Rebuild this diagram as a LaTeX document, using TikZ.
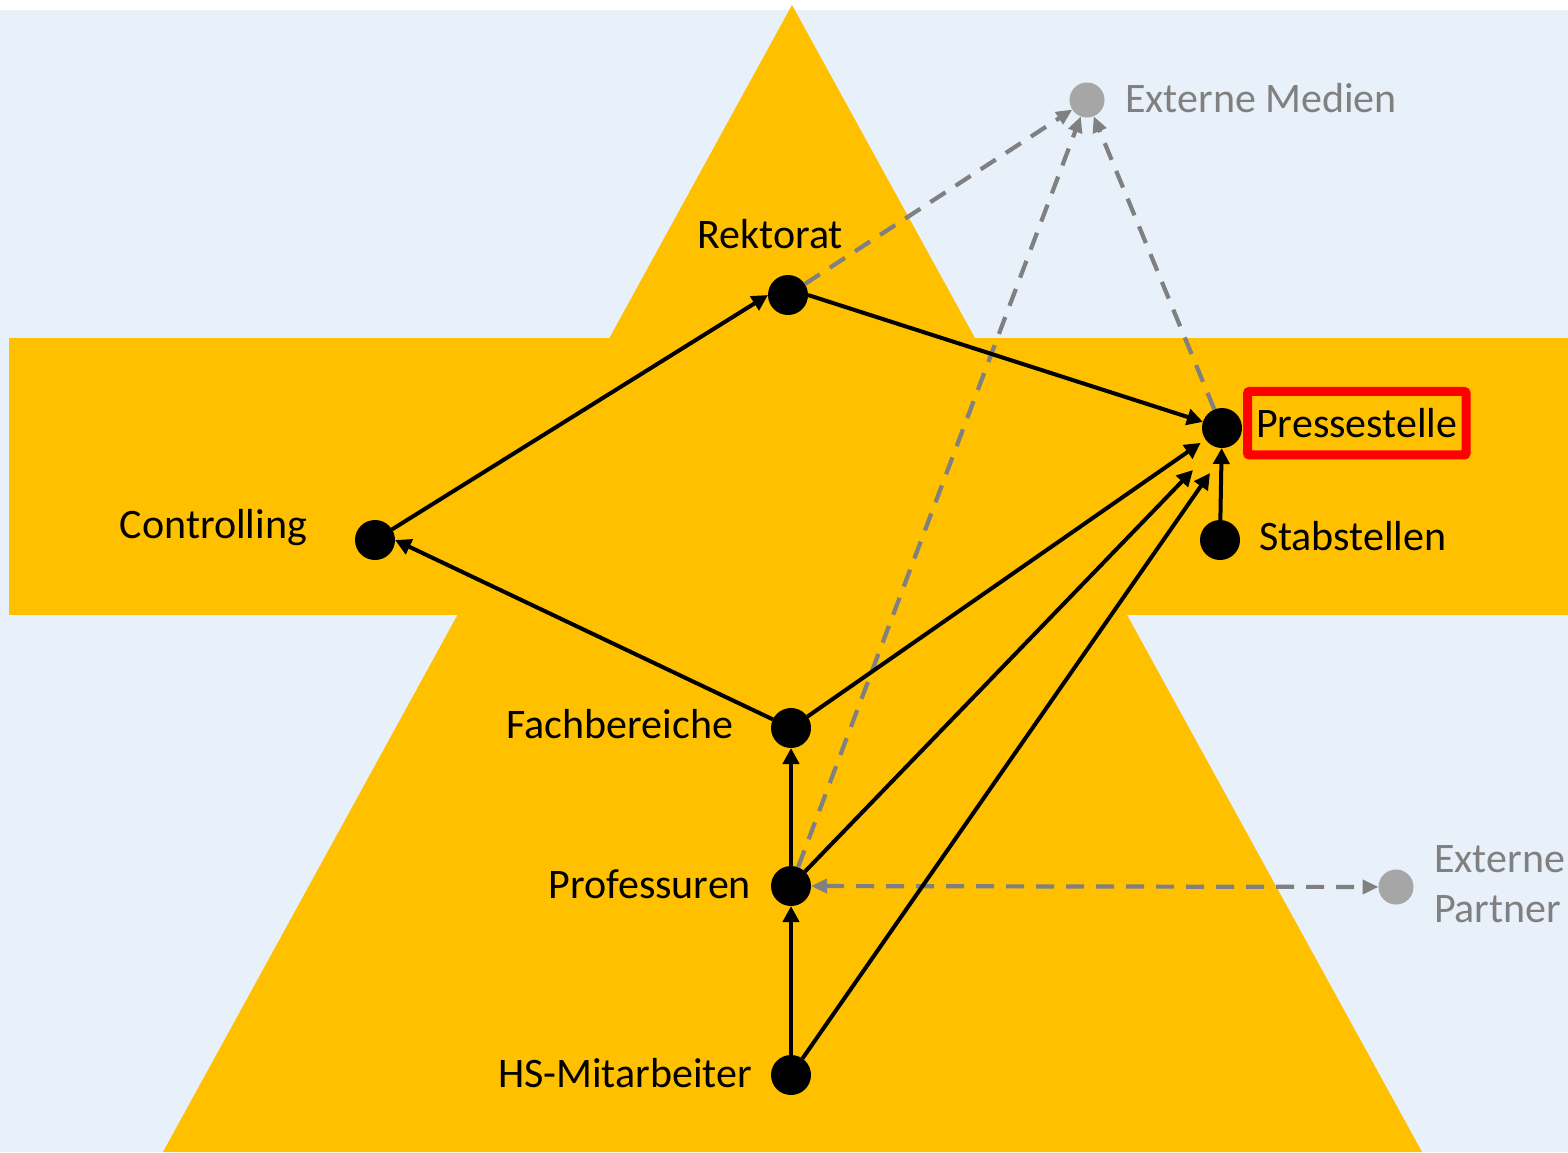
\documentclass[tikz,border=0pt]{standalone}
\usepackage{fontspec}
\setmainfont{Carlito}
\usetikzlibrary{arrows.meta}
\definecolor{bgblue}{HTML}{E8F0F9}
\definecolor{gold}{HTML}{FFC000}
\definecolor{dgray}{HTML}{808080}
\definecolor{lgray}{HTML}{A6A6A6}
\begin{document}
\begin{tikzpicture}[x=1pt,y=-1pt,
 dot/.style={circle,fill=black,minimum size=40pt,inner sep=0pt,outer sep=0pt},
 gdot/.style={circle,fill=lgray,minimum size=35pt,inner sep=0pt,outer sep=0pt},
 lbl/.style={font=\fontsize{42}{50}\selectfont,inner sep=0pt,outer sep=0pt},
 glbl/.style={lbl,text=dgray},
 flow/.style={line width=4pt,-{Triangle[length=16pt,width=16pt]}},
 ext/.style={dgray,line width=4.2pt,dash pattern=on 18pt off 12pt,-{Triangle[length=16pt,width=14pt]}},
 extboth/.style={dgray,line width=4.2pt,dash pattern=on 18pt off 12pt,{Triangle[length=16pt,width=14pt]}-{Triangle[length=16pt,width=14pt]}},
]
\useasboundingbox (0,0) rectangle (1568,1152);
\fill[white] (0,0) rectangle (1568,1152);
\fill[bgblue] (0,10) rectangle (1568,1152);
\fill[gold] (9,338) rectangle (1568,615);
\fill[gold] (792,5) -- (1422,1152) -- (163,1152) -- cycle;

% dots
\node[dot] (rk) at (788,295) {};
\node[dot] (co) at (375,540) {};
\node[dot] (ps) at (1222,428) {};
\node[dot] (st) at (1220,540) {};
\node[dot] (fb) at (791,728) {};
\node[dot] (pr) at (791,886) {};
\node[dot] (hs) at (791,1075) {};
\node[gdot] (em) at (1087,100) {};
\node[gdot] (ep) at (1396,887) {};
\coordinate (psA) at (1193,470);
\coordinate (psB) at (1210,473);

% labels
\node[lbl,anchor=base east] (rkl) at (843,248) {Rektorat};
\node[lbl,anchor=base east] (col) at (307,538) {Controlling};
\node[lbl,draw=red,line width=9pt,rounded corners=2pt,minimum width=218.5pt,minimum height=63.5pt] (psl) at (1356.8,423.2) {Pressestelle};
\node[lbl,anchor=base west] (stl) at (1259,550) {Stabstellen};
\node[lbl,anchor=base east] (fbl) at (733,738) {Fachbereiche};
\node[lbl,anchor=base east] (prl) at (751,898) {Professuren};
\node[lbl,anchor=base east] (hsl) at (752,1087) {HS-Mitarbeiter};
\node[glbl,anchor=base west] (eml) at (1125,112) {Externe Medien};
\node[glbl,anchor=base west] (epl1) at (1434,872) {Externe};
\node[glbl,anchor=base west] (epl2) at (1434,922) {Partner};

% gray dashed connectors
\draw[ext] (rk) -- (em);
\draw[ext] (pr) -- (em);
\draw[ext] (ps) -- (em);
\draw[extboth] (pr) -- (ep);

% black connectors
\draw[flow] (co) -- (rk.west);
\draw[flow] (rk.east) -- (ps);
\draw[flow] (fb) -- (co.east);
\draw[flow,shorten >=6pt] (fb) -- (ps);
\draw[flow] (pr) -- (psA);
\draw[flow] (hs) -- (psB);
\draw[flow] (st) -- (ps);
\draw[flow] (pr) -- (fb);
\draw[flow] (hs) -- (pr);
\end{tikzpicture}
\end{document}
